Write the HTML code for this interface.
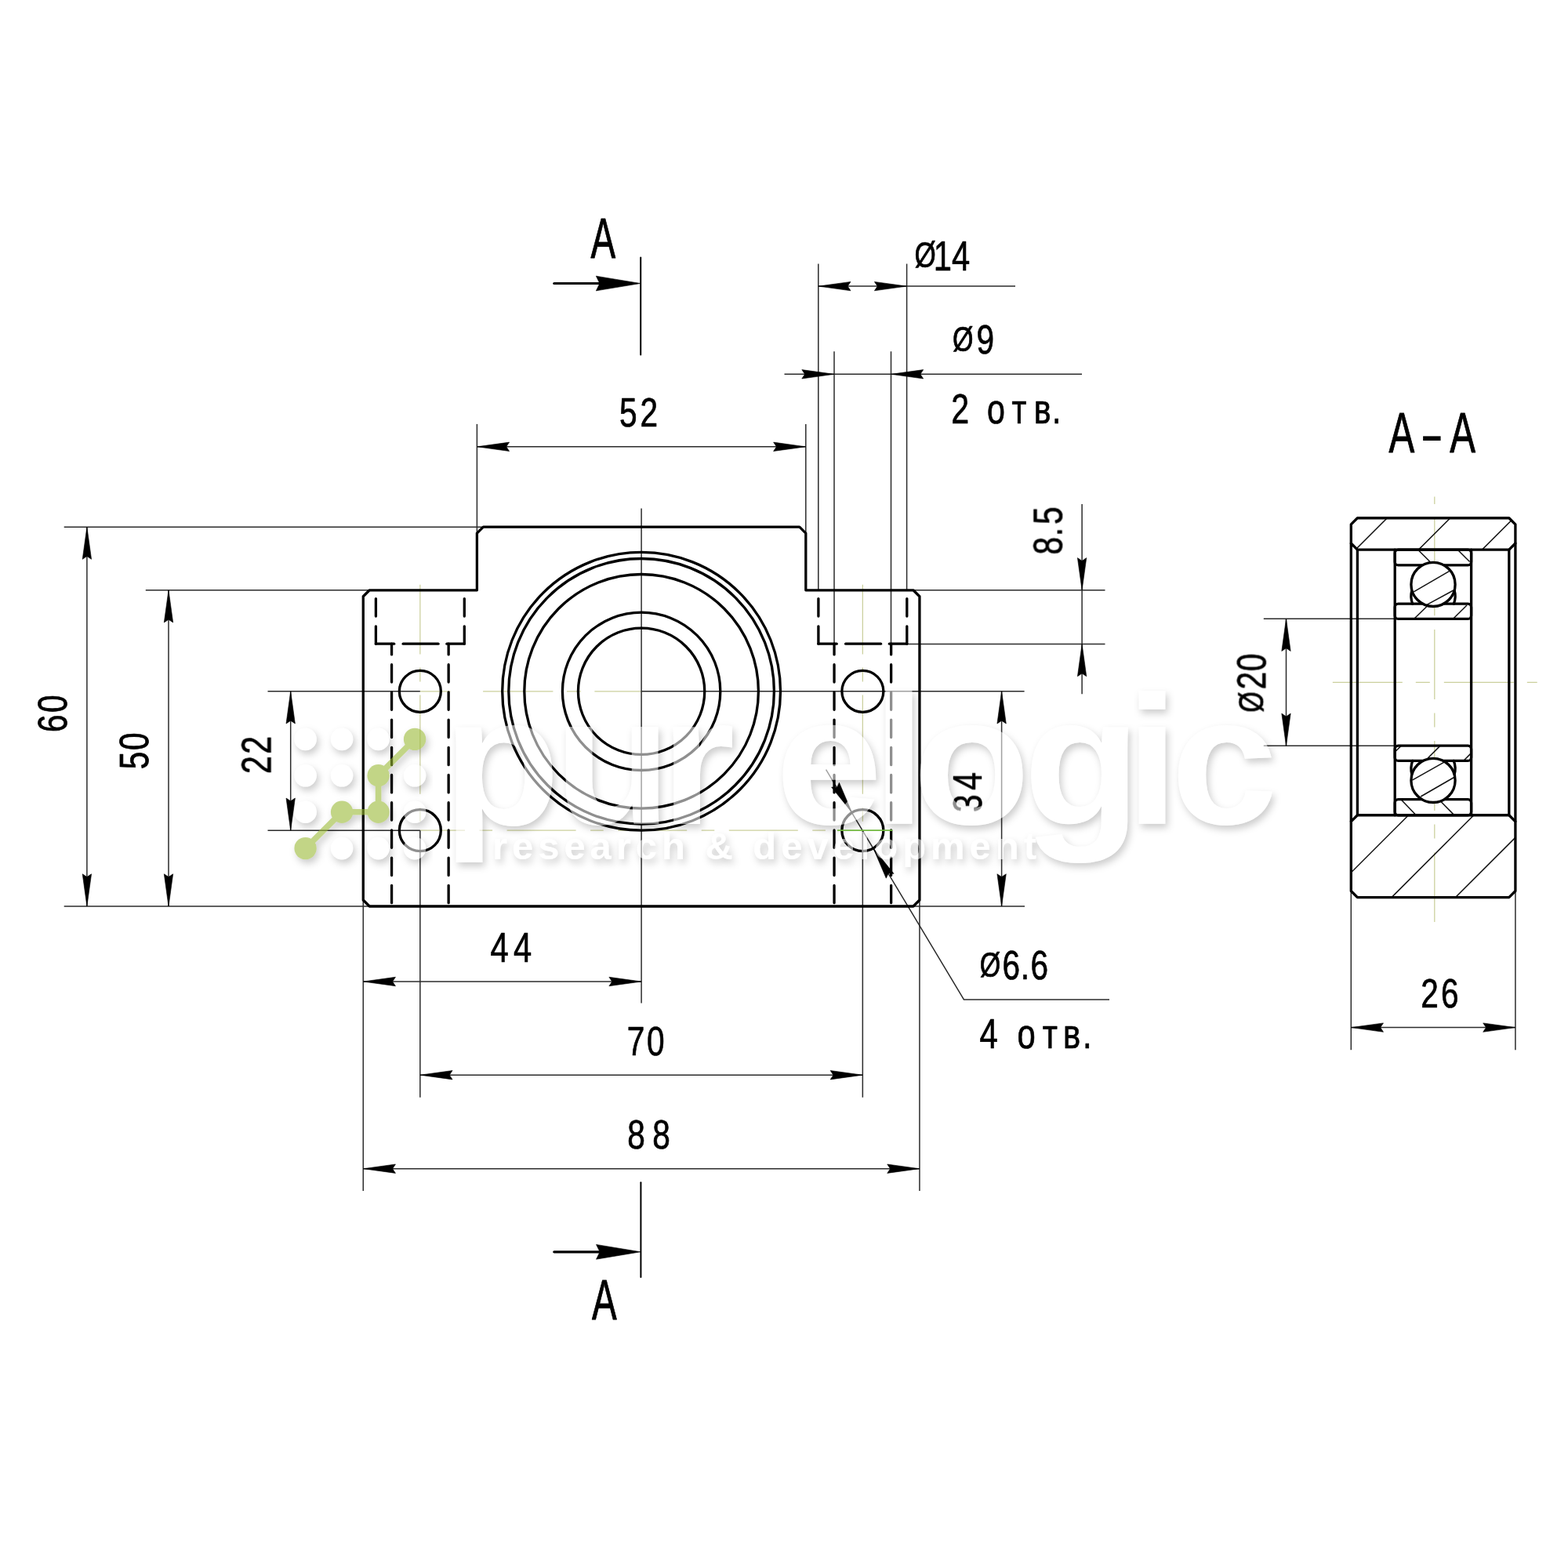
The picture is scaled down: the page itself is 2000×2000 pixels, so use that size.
<!DOCTYPE html>
<html lang="ru">
<head>
<meta charset="utf-8">
<title>Bearing housing drawing</title>
<style>
html,body{margin:0;padding:0;background:#fff;}
body{width:2000px;height:2000px;overflow:hidden;}
svg{display:block;}
.t{stroke:#2b2b2b;stroke-width:1.5;fill:none;}
.h{stroke:#111;stroke-width:1.5;fill:none;}
.g{stroke:#cbcf9c;stroke-width:1.25;fill:none;}
.k{stroke:#000;stroke-width:3.3;fill:none;stroke-linejoin:round;stroke-linecap:round;}
.d{stroke:#000;stroke-width:3.3;fill:none;stroke-linecap:round;}
.a{fill:#000;stroke:#000;stroke-width:0.6;stroke-linejoin:round;}
.s2{stroke:#000;stroke-width:2;stroke-linecap:round;}
.s3{stroke:#000;stroke-width:3.2;stroke-linecap:round;}
.tx{font-family:"Liberation Sans","DejaVu Sans",sans-serif;fill:#000;stroke:#000;stroke-linejoin:round;}
</style>
</head>
<body>
<svg width="2000" height="2000" viewBox="0 0 2000 2000">
<defs>
<filter id="noaa" x="0" y="0" width="100%" height="100%" filterUnits="userSpaceOnUse"><feOffset dx="0" dy="0"/></filter>
<filter id="wsh" x="-5%" y="-20%" width="110%" height="150%" color-interpolation-filters="sRGB">
<feGaussianBlur in="SourceAlpha" stdDeviation="5" result="b"/>
<feOffset in="b" dx="2.5" dy="4.5" result="o"/>
<feComposite in="o" in2="SourceAlpha" operator="out" result="sh"/>
<feColorMatrix in="sh" type="matrix" values="0 0 0 0 0  0 0 0 0 0  0 0 0 0 0  0 0 0 0.2 0" result="shc"/>
<feColorMatrix in="SourceGraphic" type="matrix" values="1 0 0 0 0  0 1 0 0 0  0 0 1 0 0  0 0 0 0.56 0" result="src"/>
<feMerge><feMergeNode in="shc"/><feMergeNode in="src"/></feMerge>
</filter>
<filter id="gsh" x="-20%" y="-20%" width="150%" height="150%" color-interpolation-filters="sRGB">
<feGaussianBlur in="SourceAlpha" stdDeviation="5" result="b"/>
<feOffset in="b" dx="2.5" dy="4.5" result="o"/>
<feComposite in="o" in2="SourceAlpha" operator="out" result="sh"/>
<feColorMatrix in="sh" type="matrix" values="0 0 0 0 0  0 0 0 0 0  0 0 0 0 0  0 0 0 0.2 0" result="shc"/>
<feColorMatrix in="SourceGraphic" type="matrix" values="1 0 0 0 0  0 1 0 0 0  0 0 1 0 0  0 0 0 0.6 0" result="src"/>
<feMerge><feMergeNode in="shc"/><feMergeNode in="src"/></feMerge>
</filter>
</defs>
<rect width="2000" height="2000" fill="#fff"/>
<clipPath id="cw"><path d="M1723.3 668.84 L1731.4 660.74 L1924.8 660.74 L1932.9 668.84 L1932.9 692.96 L1924.8 701.06 L1731.4 701.06 L1723.3 692.96 Z M1723.3 1047.84 L1731.4 1039.74 L1924.8 1039.74 L1932.9 1047.84 L1932.9 1136.48 L1924.8 1144.58 L1731.4 1144.58 L1723.3 1136.48 Z"/></clipPath>
<g id="centre">
<line class="g" x1="535.86" y1="745.8" x2="535.86" y2="1059.2" stroke-dasharray="126.4 17 18 17" stroke-dashoffset="37.8"/>
<line class="g" x1="1100.34" y1="745.8" x2="1100.34" y2="1059.2" stroke-dasharray="126.4 17 18 17" stroke-dashoffset="37.8"/>
<line class="g" x1="536" y1="881.8" x2="574.3" y2="881.8"/>
<line class="g" x1="616.1" y1="881.8" x2="818.1" y2="881.8" stroke-dasharray="89.3 17.5 18 17.5" stroke-dashoffset="0"/>
<line class="g" x1="536" y1="1059.2" x2="1068" y2="1059.2" stroke-dasharray="88 18.5 16.6 18.5" stroke-dashoffset="31"/>
<line class="g" x1="1829.8" y1="633.5" x2="1829.8" y2="1176" stroke-dasharray="89 17.5 18 17.7" stroke-dashoffset="115"/>
<line class="g" x1="1699.8" y1="870.4" x2="1960.7" y2="870.4" stroke-dasharray="89 17 18 18" stroke-dashoffset="0"/>
</g>
<g id="thin">
<line class="t" x1="818.1" y1="648.4" x2="818.1" y2="1279.5"/>
<line class="t" x1="608.4" y1="540.9" x2="608.4" y2="680.14"/>
<line class="t" x1="1027.8" y1="540.9" x2="1027.8" y2="680.14"/>
<line class="t" x1="608.4" y1="569.8" x2="1027.8" y2="569.8"/>
<line class="t" x1="1043.8" y1="336.5" x2="1043.8" y2="752.78"/>
<line class="t" x1="1156.6" y1="336.5" x2="1156.6" y2="752.78"/>
<line class="t" x1="1043.8" y1="365.1" x2="1295" y2="365.1"/>
<line class="t" x1="1064" y1="448.3" x2="1064" y2="821.2"/>
<line class="t" x1="1136.5" y1="448.3" x2="1136.5" y2="821.2"/>
<line class="t" x1="1000.5" y1="477.3" x2="1380" y2="477.3"/>
<line class="t" x1="1164.92" y1="752.78" x2="1409.5" y2="752.78"/>
<line class="t" x1="1156.6" y1="821.5" x2="1409.5" y2="821.5"/>
<line class="t" x1="1380.1" y1="643" x2="1380.1" y2="885.3"/>
<line class="t" x1="818.1" y1="881.8" x2="1306.6" y2="881.8"/>
<line class="t" x1="1164.92" y1="1155.98" x2="1307" y2="1155.98"/>
<line class="t" x1="1277.6" y1="881.8" x2="1277.6" y2="1155.98"/>
<line class="t" x1="81.7" y1="672.14" x2="616.4" y2="672.14"/>
<line class="t" x1="81.7" y1="1155.98" x2="471.28" y2="1155.98"/>
<line class="t" x1="110.9" y1="672.14" x2="110.9" y2="1155.98"/>
<line class="t" x1="185.8" y1="752.78" x2="471.28" y2="752.78"/>
<line class="t" x1="215" y1="752.78" x2="215" y2="1155.98"/>
<line class="t" x1="341.5" y1="881.8" x2="535.86" y2="881.8"/>
<line class="t" x1="341.5" y1="1059.2" x2="535.86" y2="1059.2"/>
<line class="t" x1="370.7" y1="881.8" x2="370.7" y2="1059.2"/>
<line class="t" x1="463.28" y1="1147.98" x2="463.28" y2="1519"/>
<line class="t" x1="1172.92" y1="1147.98" x2="1172.92" y2="1519"/>
<line class="t" x1="463.28" y1="1252" x2="818.1" y2="1252"/>
<line class="t" x1="535.86" y1="1059.2" x2="535.86" y2="1399.8"/>
<line class="t" x1="1100.34" y1="1059.2" x2="1100.34" y2="1399.8"/>
<line class="t" x1="535.86" y1="1371.2" x2="1100.34" y2="1371.2"/>
<line class="t" x1="463.28" y1="1490.7" x2="1172.92" y2="1490.7"/>
<path class="t" d="M1053.6 981.7 L1229.4 1274.9 H1415"/>
<line class="t" x1="1611.8" y1="789.3" x2="1779" y2="789.3"/>
<line class="t" x1="1611.8" y1="951.3" x2="1779" y2="951.3"/>
<line class="t" x1="1640.5" y1="789.3" x2="1640.5" y2="951.3"/>
<line class="t" x1="1723.3" y1="1136" x2="1723.3" y2="1339.2"/>
<line class="t" x1="1932.9" y1="1136" x2="1932.9" y2="1339.2"/>
<line class="t" x1="1723.3" y1="1310.6" x2="1932.9" y2="1310.6"/>
</g>
<g id="hatch" clip-path="url(#cw)">
<line class="h" x1="1729" y1="701.06" x2="1769.32" y2="660.74"/>
<line class="h" x1="1809.5" y1="701.06" x2="1849.82" y2="660.74"/>
<line class="h" x1="1890.5" y1="701.06" x2="1930.82" y2="660.74"/>
<line class="h" x1="1714.3" y1="1122" x2="1796.56" y2="1039.74"/>
<line class="h" x1="1775" y1="1144.58" x2="1879.83" y2="1039.74"/>
<line class="h" x1="1856.5" y1="1144.58" x2="1956.5" y2="1044.58"/>
</g>
<g id="hatch2">
<line class="h" x1="1809.4" y1="702" x2="1824" y2="716.5"/>
<line class="h" x1="1860" y1="702" x2="1874.6" y2="716.5"/>
<line class="h" x1="1804" y1="789" x2="1820.5" y2="773"/>
<line class="h" x1="1853.8" y1="789" x2="1871" y2="772"/>
<line class="h" x1="1821.2" y1="967" x2="1836.6" y2="951.6"/>
<line class="h" x1="1867.4" y1="969.7" x2="1875.5" y2="961.6"/>
<line class="h" x1="1780.4" y1="958" x2="1786.8" y2="951.6"/>
<line class="h" x1="1787.7" y1="1020.5" x2="1805" y2="1038.6"/>
<line class="h" x1="1838.4" y1="1023" x2="1853.8" y2="1038.6"/>
</g>
<g id="main">
<path class="k" d="M463.28 1147.98 L463.28 760.78 L471.28 752.78 L608.4 752.78 L608.4 680.14 L616.4 672.14 L1019.8 672.14 L1027.8 680.14 L1027.8 752.78 L1164.92 752.78 L1172.92 760.78 L1172.92 1147.98 L1164.92 1155.98 L471.28 1155.98 Z"/>
<circle class="k" cx="818.1" cy="881.8" r="177.4"/>
<circle class="k" cx="818.1" cy="881.8" r="169.3"/>
<circle class="k" cx="818.1" cy="881.8" r="149.3"/>
<circle class="k" cx="818.1" cy="881.8" r="100.7"/>
<circle class="k" cx="818.1" cy="881.8" r="80.65"/>
<circle class="k" cx="535.86" cy="881.8" r="26.5"/>
<circle class="k" cx="535.86" cy="1059.2" r="26.5"/>
<circle class="k" cx="1100.34" cy="881.8" r="26.5"/>
<circle class="k" cx="1100.34" cy="1059.2" r="26.5"/>
<line class="d" x1="479.41" y1="821.2" x2="479.41" y2="752.78" stroke-dasharray="22.4 12.8"/>
<line class="d" x1="592.31" y1="821.2" x2="592.31" y2="752.78" stroke-dasharray="22.4 12.8"/>
<line class="d" x1="499.57" y1="821.2" x2="499.57" y2="1155.98" stroke-dasharray="22.4 12.8" stroke-dashoffset="8.7"/>
<line class="d" x1="572.15" y1="821.2" x2="572.15" y2="1155.98" stroke-dasharray="22.4 12.8" stroke-dashoffset="8.7"/>
<line class="d" x1="479.41" y1="821.2" x2="502.71" y2="821.2"/>
<line class="d" x1="514.16" y1="821.2" x2="559.06" y2="821.2"/>
<line class="d" x1="569.91" y1="821.2" x2="592.31" y2="821.2"/>
<line class="d" x1="1043.89" y1="821.2" x2="1043.89" y2="752.78" stroke-dasharray="22.4 12.8"/>
<line class="d" x1="1156.79" y1="821.2" x2="1156.79" y2="752.78" stroke-dasharray="22.4 12.8"/>
<line class="d" x1="1064.05" y1="821.2" x2="1064.05" y2="1155.98" stroke-dasharray="22.4 12.8" stroke-dashoffset="8.7"/>
<line class="d" x1="1136.63" y1="821.2" x2="1136.63" y2="1155.98" stroke-dasharray="22.4 12.8" stroke-dashoffset="8.7"/>
<line class="d" x1="1043.89" y1="821.2" x2="1067.19" y2="821.2"/>
<line class="d" x1="1078.64" y1="821.2" x2="1123.54" y2="821.2"/>
<line class="d" x1="1134.39" y1="821.2" x2="1156.79" y2="821.2"/>
</g>
<g id="sect">
<path class="k" d="M1723.3 668.84 L1731.4 660.74 L1924.8 660.74 L1932.9 668.84 L1932.9 692.96 L1924.8 701.06 L1731.4 701.06 L1723.3 692.96 Z"/>
<path class="k" d="M1723.3 1047.84 L1731.4 1039.74 L1924.8 1039.74 L1932.9 1047.84 L1932.9 1136.48 L1924.8 1144.58 L1731.4 1144.58 L1723.3 1136.48 Z"/>
<line class="k" x1="1723.3" y1="692.96" x2="1723.3" y2="1047.84"/>
<line class="k" x1="1932.9" y1="692.96" x2="1932.9" y2="1047.84"/>
<line class="k" x1="1731.4" y1="701.06" x2="1731.4" y2="1039.74"/>
<line class="k" x1="1924.8" y1="701.06" x2="1924.8" y2="1039.74"/>
<line class="k" x1="1779.2" y1="701.06" x2="1779.2" y2="1039.74"/>
<line class="k" x1="1876.6" y1="701.06" x2="1876.6" y2="1039.74"/>
<rect class="k" x="1779.2" y="701.06" width="97.4" height="19.84" rx="4.2" ry="4.2"/>
<rect class="k" x="1779.2" y="770.2" width="97.4" height="19.2" rx="4.2" ry="4.2"/>
<rect class="k" x="1779.2" y="951.2" width="97.4" height="19.2" rx="4.2" ry="4.2"/>
<rect class="k" x="1779.2" y="1019.7" width="97.4" height="20.04" rx="4.2" ry="4.2"/>
<path class="k" d="M1800.92 752.9 A28.1 28.1 0 0 0 1801.66 770.2"/>
<path class="k" d="M1855.08 752.9 A28.1 28.1 0 0 1 1854.34 770.2"/>
<path class="k" d="M1800.92 987.9 A28.1 28.1 0 0 1 1801.74 970.4"/>
<path class="k" d="M1855.08 987.9 A28.1 28.1 0 0 0 1854.26 970.4"/>
<circle cx="1828" cy="745.4" r="28.1" fill="#fff" stroke="none"/>
<circle cx="1828" cy="995.4" r="28.1" fill="#fff" stroke="none"/>
</g>
<g id="ballhatch">
<line class="h" x1="1803.2" y1="754.8" x2="1848.4" y2="728.6"/>
<line class="h" x1="1820.4" y1="771.2" x2="1853.8" y2="753"/>
<line class="h" x1="1801.3" y1="995.2" x2="1843" y2="971.6"/>
<line class="h" x1="1812.2" y1="1016" x2="1854.7" y2="991.5"/>
</g>
<g id="balls">
<circle class="k" cx="1828" cy="745.4" r="28.1"/>
<circle class="k" cx="1828" cy="995.4" r="28.1"/>
</g>
<g id="arrows">
<polygon class="a" points="608.4,569.8 649.6,564.1 645.8,569.8 649.6,575.5"/>
<polygon class="a" points="1027.8,569.8 986.6,575.5 990.4,569.8 986.6,564.1"/>
<polygon class="a" points="1043.8,365.1 1085,359.4 1081.2,365.1 1085,370.8"/>
<polygon class="a" points="1156.6,365.1 1115.4,370.8 1119.2,365.1 1115.4,359.4"/>
<polygon class="a" points="1064,477.3 1022.8,483 1026.6,477.3 1022.8,471.6"/>
<polygon class="a" points="1136.5,477.3 1177.7,471.6 1173.9,477.3 1177.7,483"/>
<polygon class="a" points="1380.1,752.78 1374.4,711.58 1380.1,715.38 1385.8,711.58"/>
<polygon class="a" points="1380.1,821.5 1385.8,862.7 1380.1,858.9 1374.4,862.7"/>
<polygon class="a" points="1277.6,881.8 1283.3,923 1277.6,919.2 1271.9,923"/>
<polygon class="a" points="1277.6,1155.98 1271.9,1114.78 1277.6,1118.58 1283.3,1114.78"/>
<polygon class="a" points="110.9,672.14 116.6,713.34 110.9,709.54 105.2,713.34"/>
<polygon class="a" points="110.9,1155.98 105.2,1114.78 110.9,1118.58 116.6,1114.78"/>
<polygon class="a" points="215,752.78 220.7,793.98 215,790.18 209.3,793.98"/>
<polygon class="a" points="215,1155.98 209.3,1114.78 215,1118.58 220.7,1114.78"/>
<polygon class="a" points="370.7,881.8 376.4,923 370.7,919.2 365,923"/>
<polygon class="a" points="370.7,1059.2 365,1018 370.7,1021.8 376.4,1018"/>
<polygon class="a" points="463.28,1252 504.48,1246.3 500.68,1252 504.48,1257.7"/>
<polygon class="a" points="818.1,1252 776.9,1257.7 780.7,1252 776.9,1246.3"/>
<polygon class="a" points="535.86,1371.2 577.06,1365.5 573.26,1371.2 577.06,1376.9"/>
<polygon class="a" points="1100.34,1371.2 1059.14,1376.9 1062.94,1371.2 1059.14,1365.5"/>
<polygon class="a" points="463.28,1490.7 504.48,1485 500.68,1490.7 504.48,1496.4"/>
<polygon class="a" points="1172.92,1490.7 1131.72,1496.4 1135.52,1490.7 1131.72,1485"/>
<polygon class="a" points="1640.5,789.3 1646.2,830.5 1640.5,826.7 1634.8,830.5"/>
<polygon class="a" points="1640.5,951.3 1634.8,910.1 1640.5,913.9 1646.2,910.1"/>
<polygon class="a" points="1723.3,1310.6 1764.5,1304.9 1760.7,1310.6 1764.5,1316.3"/>
<polygon class="a" points="1932.9,1310.6 1891.7,1316.3 1895.5,1310.6 1891.7,1304.9"/>
<polygon class="a" points="1086.71,1036.47 1060.64,1004.07 1067.48,1004.4 1070.41,998.21"/>
<polygon class="a" points="1113.97,1081.93 1140.04,1114.33 1133.2,1114 1130.27,1120.19"/>
<line class="s2" x1="817.2" y1="328.4" x2="817.2" y2="452.5"/>
<line class="s3" x1="706.8" y1="361.5" x2="766" y2="361.5"/>
<polygon class="a" points="816.9,361.5 760.3,370.9 764.9,361.5 760.3,352.1"/>
<line class="s2" x1="817.4" y1="1508.3" x2="817.4" y2="1628.9"/>
<line class="s3" x1="706.8" y1="1596.8" x2="766" y2="1596.8"/>
<polygon class="a" points="817.1,1596.8 760.5,1606.2 765.1,1596.8 760.5,1587.4"/>
</g>
<g id="text" filter="url(#noaa)">
<text class="tx" transform="translate(752.8 329.4) scale(0.6650 1)" font-size="71.37" stroke-width="0.9" x="0.94">A</text>
<text class="tx" transform="translate(754.3 1682.7) scale(0.6650 1)" font-size="71.37" stroke-width="0.9" x="0.94">A</text>
<text class="tx" transform="translate(1771.7 576.8) scale(0.68 1)" font-size="72.24" stroke-width="0.9"><tspan x="-0.14">A</tspan><tspan x="57.95" dy="1.5" stroke-width="0" textLength="45.13" lengthAdjust="spacingAndGlyphs">-</tspan><tspan x="114.12" dy="-1.5">A</tspan></text>
<text class="tx" transform="translate(791.5 544.09) scale(0.7700 1)" font-size="52.68" stroke-width="0.75" x="-2.11 32.44">52</text>
<text class="tx" transform="translate(626.4 1226.7) scale(0.7700 1)" font-size="54.22" stroke-width="0.75" x="-1.24 37.02">44</text>
<text class="tx" transform="translate(801.9 1346.19) scale(0.7700 1)" font-size="52.68" stroke-width="0.75" x="-2.7 30.16">70</text>
<text class="tx" transform="translate(801.9 1465.29) scale(0.7700 1)" font-size="52.68" stroke-width="0.75" x="-2.29 39.48">88</text>
<text class="tx" transform="translate(1814.3 1285.09) scale(0.7700 1)" font-size="52.68" stroke-width="0.75" x="-2.65 30.81">26</text>
<text class="tx" transform="translate(1215.3 539.5) scale(0.7700 1)" font-size="53.42" stroke-width="0.75" x="-2.69 32.08 56.7 97.77 134.47 164.4">2 отв.</text>
<text class="tx" transform="translate(1250.4 1336.9) scale(0.7700 1)" font-size="54.22" stroke-width="0.75" x="-1.24 34.55 61.29 103.17 137.24 169.61">4 отв.</text>
<text class="tx" transform="translate(84.79 932) rotate(-90) scale(0.7700 1)" font-size="52.68" stroke-width="0.75" x="-2.68 29.9">60</text>
<text class="tx" transform="translate(189.19 979.6) rotate(-90) scale(0.7700 1)" font-size="52.68" stroke-width="0.75" x="-2.11 29.38">50</text>
<text class="tx" transform="translate(345.5 985) rotate(-90) scale(0.7700 1)" font-size="53.42" stroke-width="0.75" x="-2.69 30.25">22</text>
<text class="tx" transform="translate(1354.49 705.6) rotate(-90) scale(0.7700 1)" font-size="52.68" stroke-width="0.75" x="-2.29 27.79 47.63">8.5</text>
<text class="tx" transform="translate(1251.99 1034.4) rotate(-90) scale(0.7700 1)" font-size="52.68" stroke-width="0.75" x="-2.01 34.71">34</text>
<text class="tx" transform="translate(1166.44 344.7) scale(0.7700 1)" font-size="54.22" stroke-width="0.75"><tspan font-size="45.54" x="0" y="-3.39">Ø</tspan><tspan x="31.66 61.68" y="0">14</tspan></text>
<text class="tx" transform="translate(1214.93 451.29) scale(0.7700 1)" font-size="52.68" stroke-width="0.75"><tspan font-size="44.25" x="0" y="-3.22">Ø</tspan><tspan x="39.67" y="0">9</tspan></text>
<text class="tx" transform="translate(1249.73 1249.09) scale(0.7700 1)" font-size="52.68" stroke-width="0.75"><tspan font-size="44.25" x="0" y="-3.52">Ø</tspan><tspan x="37.41 67.71 84.17" y="0">6.6</tspan></text>
<text class="tx" transform="translate(1614.29 908.67) rotate(-90) scale(0.7700 1)" font-size="52.68" stroke-width="0.75"><tspan font-size="44.25" x="0" y="-2.82">Ø</tspan><tspan x="37.83 68.3" y="0">20</tspan></text>
</g>
<g id="wm">
<g filter="url(#wsh)" fill="#fff">
<circle cx="389.6" cy="942.9" r="14.3"/>
<circle cx="389.6" cy="989.3" r="14.3"/>
<circle cx="389.6" cy="1035.7" r="14.3"/>
<circle cx="436.1" cy="942.9" r="14.3"/>
<circle cx="436.1" cy="989.3" r="14.3"/>
<circle cx="436.1" cy="1082.1" r="14.3"/>
<circle cx="482.6" cy="942.9" r="14.3"/>
<circle cx="482.6" cy="1082.1" r="14.3"/>
<circle cx="529.1" cy="989.3" r="14.3"/>
<circle cx="529.1" cy="1035.7" r="14.3"/>
<circle cx="529.1" cy="1082.1" r="14.3"/>
</g>
<g filter="url(#wsh)" fill="#fff" font-family="'Liberation Sans','DejaVu Sans',sans-serif" font-weight="700">
<text font-size="234" transform="scale(1.05 1)" y="1051.5" x="537.62 672.8 801.81 941.98 1059.51 1108.53 1242.99 1367.13 1422.22">purelogic</text>
<text font-size="49" x="628" y="1095.6" textLength="694" lengthAdjust="spacing">research &amp; development</text>
</g>
<g filter="url(#gsh)" fill="#9ab936" stroke="#9ab936" stroke-width="7.6" stroke-linecap="round" stroke-linejoin="round">
<polyline fill="none" points="389.6,1082.1 436.1,1035.7 482.6,1035.7 482.6,989.3 529.1,942.9"/>
<circle cx="389.6" cy="1082.1" r="14.2" stroke="none"/>
<circle cx="436.1" cy="1035.7" r="14.2" stroke="none"/>
<circle cx="482.6" cy="1035.7" r="14.2" stroke="none"/>
<circle cx="482.6" cy="989.3" r="14.2" stroke="none"/>
<circle cx="529.1" cy="942.9" r="14.2" stroke="none"/>
</g>
</g>
<line x1="1068" y1="1059.2" x2="1138.4" y2="1059.2" stroke="#72b840" stroke-width="1.7"/>
</svg>
</body>
</html>
